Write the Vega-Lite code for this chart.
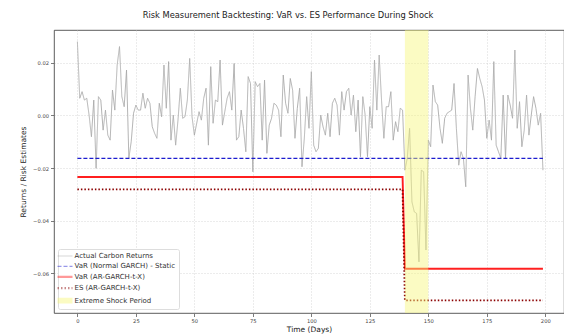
{
  "$schema": "https://vega.github.io/schema/vega-lite/v6.json",
  "width": 510,
  "height": 283,
  "autosize": {"type": "none"},
  "padding": {"left": 54, "top": 30, "right": 0, "bottom": 23},
  "background": "white",
  "title": {"text": "Risk Measurement Backtesting: VaR vs. ES Performance During Shock", "font": "DejaVu Sans", "fontSize": 8.3, "fontWeight": "normal", "color": "#222", "anchor": "middle", "dx": -21, "offset": 11},
  "config": {
    "view": {"stroke": "#333", "strokeWidth": 0.8},
    "axis": {"labelFont": "DejaVu Sans", "labelFontSize": 5.2, "labelColor": "#444", "tickSize": 3.5, "tickColor": "#444", "tickWidth": 0.7, "domain": false, "grid": true, "gridColor": "#c8c8c8", "gridDash": [1, 2], "gridWidth": 0.7, "titleFont": "DejaVu Sans", "titleFontSize": 7.5, "titleFontWeight": "normal", "titleColor": "#222", "labelPadding": 2}
  },
  "datasets": {
    "lines": [
      {"s":"Actual Carbon Returns","t":0,"v":0.0280},{"s":"Actual Carbon Returns","t":1,"v":0.0065},{"s":"Actual Carbon Returns","t":2,"v":0.0090},{"s":"Actual Carbon Returns","t":3,"v":0.0058},{"s":"Actual Carbon Returns","t":4,"v":0.0065},
      {"s":"Actual Carbon Returns","t":5,"v":0.0001},{"s":"Actual Carbon Returns","t":6,"v":-0.0081},{"s":"Actual Carbon Returns","t":7,"v":0.0058},{"s":"Actual Carbon Returns","t":8,"v":-0.0201},{"s":"Actual Carbon Returns","t":9,"v":0.0071},
      {"s":"Actual Carbon Returns","t":10,"v":0.0058},{"s":"Actual Carbon Returns","t":11,"v":-0.0056},{"s":"Actual Carbon Returns","t":12,"v":0.0020},{"s":"Actual Carbon Returns","t":13,"v":-0.0075},{"s":"Actual Carbon Returns","t":14,"v":-0.0094},
      {"s":"Actual Carbon Returns","t":15,"v":0.0096},{"s":"Actual Carbon Returns","t":16,"v":0.0020},{"s":"Actual Carbon Returns","t":17,"v":0.0191},{"s":"Actual Carbon Returns","t":18,"v":0.0261},{"s":"Actual Carbon Returns","t":19,"v":0.0071},
      {"s":"Actual Carbon Returns","t":20,"v":0.0033},{"s":"Actual Carbon Returns","t":21,"v":0.0172},{"s":"Actual Carbon Returns","t":22,"v":-0.0163},{"s":"Actual Carbon Returns","t":23,"v":-0.0100},{"s":"Actual Carbon Returns","t":24,"v":0.0008},
      {"s":"Actual Carbon Returns","t":25,"v":0.0039},{"s":"Actual Carbon Returns","t":26,"v":0.0020},{"s":"Actual Carbon Returns","t":27,"v":0.0020},{"s":"Actual Carbon Returns","t":28,"v":0.0084},{"s":"Actual Carbon Returns","t":29,"v":0.0027},
      {"s":"Actual Carbon Returns","t":30,"v":0.0065},{"s":"Actual Carbon Returns","t":31,"v":0.0046},{"s":"Actual Carbon Returns","t":32,"v":-0.0043},{"s":"Actual Carbon Returns","t":33,"v":-0.0068},{"s":"Actual Carbon Returns","t":34,"v":-0.0087},
      {"s":"Actual Carbon Returns","t":35,"v":0.0046},{"s":"Actual Carbon Returns","t":36,"v":-0.0005},{"s":"Actual Carbon Returns","t":37,"v":0.0191},{"s":"Actual Carbon Returns","t":38,"v":0.0027},{"s":"Actual Carbon Returns","t":39,"v":0.0204},
      {"s":"Actual Carbon Returns","t":40,"v":-0.0094},{"s":"Actual Carbon Returns","t":41,"v":0.0001},{"s":"Actual Carbon Returns","t":42,"v":-0.0113},{"s":"Actual Carbon Returns","t":43,"v":-0.0018},{"s":"Actual Carbon Returns","t":44,"v":0.0103},
      {"s":"Actual Carbon Returns","t":45,"v":-0.0011},{"s":"Actual Carbon Returns","t":46,"v":-0.0005},{"s":"Actual Carbon Returns","t":47,"v":0.0058},{"s":"Actual Carbon Returns","t":48,"v":0.0216},{"s":"Actual Carbon Returns","t":49,"v":-0.0005},
      {"s":"Actual Carbon Returns","t":50,"v":-0.0075},{"s":"Actual Carbon Returns","t":51,"v":-0.0030},{"s":"Actual Carbon Returns","t":52,"v":0.0014},{"s":"Actual Carbon Returns","t":53,"v":-0.0018},{"s":"Actual Carbon Returns","t":54,"v":0.0065},
      {"s":"Actual Carbon Returns","t":55,"v":0.0103},{"s":"Actual Carbon Returns","t":56,"v":-0.0113},{"s":"Actual Carbon Returns","t":57,"v":0.0185},{"s":"Actual Carbon Returns","t":58,"v":-0.0030},{"s":"Actual Carbon Returns","t":59,"v":0.0058},
      {"s":"Actual Carbon Returns","t":60,"v":0.0052},{"s":"Actual Carbon Returns","t":61,"v":0.0210},{"s":"Actual Carbon Returns","t":62,"v":-0.0037},{"s":"Actual Carbon Returns","t":63,"v":0.0014},{"s":"Actual Carbon Returns","t":64,"v":0.0065},
      {"s":"Actual Carbon Returns","t":65,"v":0.0090},{"s":"Actual Carbon Returns","t":66,"v":0.0020},{"s":"Actual Carbon Returns","t":67,"v":0.0197},{"s":"Actual Carbon Returns","t":68,"v":-0.0094},{"s":"Actual Carbon Returns","t":69,"v":-0.0081},
      {"s":"Actual Carbon Returns","t":70,"v":0.0020},{"s":"Actual Carbon Returns","t":71,"v":-0.0049},{"s":"Actual Carbon Returns","t":72,"v":-0.0138},{"s":"Actual Carbon Returns","t":73,"v":0.0147},{"s":"Actual Carbon Returns","t":74,"v":0.0121},
      {"s":"Actual Carbon Returns","t":75,"v":-0.0214},{"s":"Actual Carbon Returns","t":76,"v":0.0128},{"s":"Actual Carbon Returns","t":77,"v":0.0109},{"s":"Actual Carbon Returns","t":78,"v":0.0121},{"s":"Actual Carbon Returns","t":79,"v":-0.0094},
      {"s":"Actual Carbon Returns","t":80,"v":0.0134},{"s":"Actual Carbon Returns","t":81,"v":-0.0144},{"s":"Actual Carbon Returns","t":82,"v":-0.0037},{"s":"Actual Carbon Returns","t":83,"v":-0.0011},{"s":"Actual Carbon Returns","t":84,"v":0.0046},
      {"s":"Actual Carbon Returns","t":85,"v":0.0039},{"s":"Actual Carbon Returns","t":86,"v":0.0020},{"s":"Actual Carbon Returns","t":87,"v":-0.0081},{"s":"Actual Carbon Returns","t":88,"v":0.0153},{"s":"Actual Carbon Returns","t":89,"v":0.0046},
      {"s":"Actual Carbon Returns","t":90,"v":0.0008},{"s":"Actual Carbon Returns","t":91,"v":0.0140},{"s":"Actual Carbon Returns","t":92,"v":0.0096},{"s":"Actual Carbon Returns","t":93,"v":-0.0087},{"s":"Actual Carbon Returns","t":94,"v":0.0027},
      {"s":"Actual Carbon Returns","t":95,"v":0.0103},{"s":"Actual Carbon Returns","t":96,"v":-0.0195},{"s":"Actual Carbon Returns","t":97,"v":-0.0087},{"s":"Actual Carbon Returns","t":98,"v":0.0071},{"s":"Actual Carbon Returns","t":99,"v":-0.0049},
      {"s":"Actual Carbon Returns","t":100,"v":0.0166},{"s":"Actual Carbon Returns","t":101,"v":-0.0113},{"s":"Actual Carbon Returns","t":102,"v":-0.0138},{"s":"Actual Carbon Returns","t":103,"v":-0.0125},{"s":"Actual Carbon Returns","t":104,"v":0.0001},
      {"s":"Actual Carbon Returns","t":105,"v":-0.0043},{"s":"Actual Carbon Returns","t":106,"v":-0.0075},{"s":"Actual Carbon Returns","t":107,"v":0.0008},{"s":"Actual Carbon Returns","t":108,"v":-0.0081},{"s":"Actual Carbon Returns","t":109,"v":0.0046},
      {"s":"Actual Carbon Returns","t":110,"v":0.0065},{"s":"Actual Carbon Returns","t":111,"v":0.0039},{"s":"Actual Carbon Returns","t":112,"v":-0.0075},{"s":"Actual Carbon Returns","t":113,"v":0.0090},{"s":"Actual Carbon Returns","t":114,"v":0.0020},
      {"s":"Actual Carbon Returns","t":115,"v":0.0090},{"s":"Actual Carbon Returns","t":116,"v":0.0103},{"s":"Actual Carbon Returns","t":117,"v":0.0001},{"s":"Actual Carbon Returns","t":118,"v":0.0077},{"s":"Actual Carbon Returns","t":119,"v":-0.0062},
      {"s":"Actual Carbon Returns","t":120,"v":0.0058},{"s":"Actual Carbon Returns","t":121,"v":-0.0157},{"s":"Actual Carbon Returns","t":122,"v":0.0071},{"s":"Actual Carbon Returns","t":123,"v":0.0001},{"s":"Actual Carbon Returns","t":124,"v":-0.0157},
      {"s":"Actual Carbon Returns","t":125,"v":0.0033},{"s":"Actual Carbon Returns","t":126,"v":-0.0049},{"s":"Actual Carbon Returns","t":127,"v":0.0210},{"s":"Actual Carbon Returns","t":128,"v":0.0020},{"s":"Actual Carbon Returns","t":129,"v":0.0229},
      {"s":"Actual Carbon Returns","t":130,"v":0.0058},{"s":"Actual Carbon Returns","t":131,"v":-0.0087},{"s":"Actual Carbon Returns","t":132,"v":0.0033},{"s":"Actual Carbon Returns","t":133,"v":0.0033},{"s":"Actual Carbon Returns","t":134,"v":0.0090},
      {"s":"Actual Carbon Returns","t":135,"v":-0.0094},{"s":"Actual Carbon Returns","t":136,"v":-0.0024},{"s":"Actual Carbon Returns","t":137,"v":-0.0062},{"s":"Actual Carbon Returns","t":138,"v":0.0027},{"s":"Actual Carbon Returns","t":139,"v":0.0020},
      {"s":"Actual Carbon Returns","t":140,"v":-0.0208},{"s":"Actual Carbon Returns","t":141,"v":-0.0163},{"s":"Actual Carbon Returns","t":142,"v":-0.0049},{"s":"Actual Carbon Returns","t":143,"v":-0.0328},{"s":"Actual Carbon Returns","t":144,"v":-0.0366},
      {"s":"Actual Carbon Returns","t":145,"v":-0.0372},{"s":"Actual Carbon Returns","t":146,"v":-0.0556},{"s":"Actual Carbon Returns","t":147,"v":-0.0208},{"s":"Actual Carbon Returns","t":148,"v":-0.0214},{"s":"Actual Carbon Returns","t":149,"v":-0.0511},
      {"s":"Actual Carbon Returns","t":150,"v":-0.0094},{"s":"Actual Carbon Returns","t":151,"v":-0.0119},{"s":"Actual Carbon Returns","t":152,"v":0.0115},{"s":"Actual Carbon Returns","t":153,"v":0.0052},{"s":"Actual Carbon Returns","t":154,"v":0.0039},
      {"s":"Actual Carbon Returns","t":155,"v":-0.0049},{"s":"Actual Carbon Returns","t":156,"v":-0.0106},{"s":"Actual Carbon Returns","t":157,"v":-0.0011},{"s":"Actual Carbon Returns","t":158,"v":0.0008},{"s":"Actual Carbon Returns","t":159,"v":0.0014},
      {"s":"Actual Carbon Returns","t":160,"v":0.0020},{"s":"Actual Carbon Returns","t":161,"v":0.0121},{"s":"Actual Carbon Returns","t":162,"v":-0.0049},{"s":"Actual Carbon Returns","t":163,"v":-0.0189},{"s":"Actual Carbon Returns","t":164,"v":-0.0138},
      {"s":"Actual Carbon Returns","t":165,"v":-0.0163},{"s":"Actual Carbon Returns","t":166,"v":-0.0271},{"s":"Actual Carbon Returns","t":167,"v":0.0153},{"s":"Actual Carbon Returns","t":168,"v":0.0027},{"s":"Actual Carbon Returns","t":169,"v":-0.0056},
      {"s":"Actual Carbon Returns","t":170,"v":0.0071},{"s":"Actual Carbon Returns","t":171,"v":0.0178},{"s":"Actual Carbon Returns","t":172,"v":0.0140},{"s":"Actual Carbon Returns","t":173,"v":0.0109},{"s":"Actual Carbon Returns","t":174,"v":0.0058},
      {"s":"Actual Carbon Returns","t":175,"v":-0.0087},{"s":"Actual Carbon Returns","t":176,"v":-0.0018},{"s":"Actual Carbon Returns","t":177,"v":-0.0094},{"s":"Actual Carbon Returns","t":178,"v":0.0204},{"s":"Actual Carbon Returns","t":179,"v":-0.0113},
      {"s":"Actual Carbon Returns","t":180,"v":-0.0138},{"s":"Actual Carbon Returns","t":181,"v":-0.0163},{"s":"Actual Carbon Returns","t":182,"v":0.0077},{"s":"Actual Carbon Returns","t":183,"v":-0.0163},{"s":"Actual Carbon Returns","t":184,"v":0.0077},
      {"s":"Actual Carbon Returns","t":185,"v":0.0039},{"s":"Actual Carbon Returns","t":186,"v":-0.0011},{"s":"Actual Carbon Returns","t":187,"v":0.0248},{"s":"Actual Carbon Returns","t":188,"v":-0.0049},{"s":"Actual Carbon Returns","t":189,"v":0.0052},
      {"s":"Actual Carbon Returns","t":190,"v":-0.0119},{"s":"Actual Carbon Returns","t":191,"v":-0.0056},{"s":"Actual Carbon Returns","t":192,"v":0.0077},{"s":"Actual Carbon Returns","t":193,"v":-0.0075},{"s":"Actual Carbon Returns","t":194,"v":0.0001},
      {"s":"Actual Carbon Returns","t":195,"v":0.0071},{"s":"Actual Carbon Returns","t":196,"v":0.0027},{"s":"Actual Carbon Returns","t":197,"v":-0.0037},{"s":"Actual Carbon Returns","t":198,"v":0.0008},{"s":"Actual Carbon Returns","t":199,"v":-0.0208},
      {"s":"VaR (Normal GARCH) - Static","t":0,"v":-0.0163},{"s":"VaR (Normal GARCH) - Static","t":199,"v":-0.0163},
      {"s":"VaR (AR-GARCH-t-X)","t":0,"v":-0.0234},{"s":"VaR (AR-GARCH-t-X)","t":139,"v":-0.0234},{"s":"VaR (AR-GARCH-t-X)","t":140,"v":-0.0582},{"s":"VaR (AR-GARCH-t-X)","t":199,"v":-0.0582},
      {"s":"ES (AR-GARCH-t-X)","t":0,"v":-0.0281},{"s":"ES (AR-GARCH-t-X)","t":139,"v":-0.0281},{"s":"ES (AR-GARCH-t-X)","t":140,"v":-0.0702},{"s":"ES (AR-GARCH-t-X)","t":199,"v":-0.0702}
    ],
    "shock": [{"s": "Extreme Shock Period", "t0": 140, "t1": 150}]
  },
  "layer": [
    {
      "data": {"name": "lines"},
      "mark": {"type": "line", "strokeCap": "butt"},
      "encoding": {
        "x": {"field": "t", "type": "quantitative", "scale": {"domain": [-10, 208], "nice": false, "zero": false}, "axis": {"values": [0, 25, 50, 75, 100, 125, 150, 175, 200], "title": "Time (Days)", "titlePadding": 2}},
        "y": {"field": "v", "type": "quantitative", "scale": {"domain": [-0.075, 0.0324], "nice": false, "zero": false}, "axis": {"values": [-0.06, -0.04, -0.02, 0, 0.02], "format": ".2f", "title": "Returns / Risk Estimates", "titlePadding": 5}},
        "color": {
          "field": "s", "type": "nominal",
          "scale": {"domain": ["Actual Carbon Returns", "VaR (Normal GARCH) - Static", "VaR (AR-GARCH-t-X)", "ES (AR-GARCH-t-X)", "Extreme Shock Period"], "range": ["#a8a8a8", "#1c1ccf", "#ff1f1f", "#8b0000", "#f7f77a"]},
          "legend": {"title": null, "orient": "bottom-left", "offset": 4, "symbolSize": 225, "rowPadding": 2.4, "labelFont": "DejaVu Sans", "labelFontSize": 7, "labelColor": "#333", "labelOffset": 6, "fillColor": "white", "strokeColor": "#dddddd", "padding": 3.5, "cornerRadius": 2,
            "symbolType": {"expr": "datum.value == 'Extreme Shock Period' ? 'M-1,-0.3H1M-1,-0.15H1M-1,0H1M-1,0.15H1M-1,0.3H1' : 'stroke'"},
            "symbolStrokeWidth": {"expr": "datum.value == 'Extreme Shock Period' ? 1.3 : datum.value == 'Actual Carbon Returns' ? 1.2 : datum.value == 'VaR (Normal GARCH) - Static' ? 1.4 : 2.2"},
            "symbolOpacity": {"expr": "datum.value == 'Extreme Shock Period' ? 0.45 : 1"}}
        },
        "strokeDash": {
          "field": "s", "type": "nominal",
          "scale": {"domain": ["Actual Carbon Returns", "VaR (Normal GARCH) - Static", "VaR (AR-GARCH-t-X)", "ES (AR-GARCH-t-X)", "Extreme Shock Period"], "range": [[1, 0], [4, 2], [1, 0], [1.5, 2], [1, 0]]}
        },
        "strokeWidth": {
          "condition": [
            {"test": "datum.s === 'Actual Carbon Returns'", "value": 0.9},
            {"test": "datum.s === 'VaR (Normal GARCH) - Static'", "value": 1.3}
          ],
          "value": 1.9
        }
      }
    },
    {
      "data": {"name": "shock"},
      "mark": {"type": "rect", "opacity": 0.45},
      "encoding": {
        "x": {"field": "t0", "type": "quantitative"},
        "x2": {"field": "t1"},
        "color": {"field": "s", "type": "nominal"}
      }
    }
  ]
}
